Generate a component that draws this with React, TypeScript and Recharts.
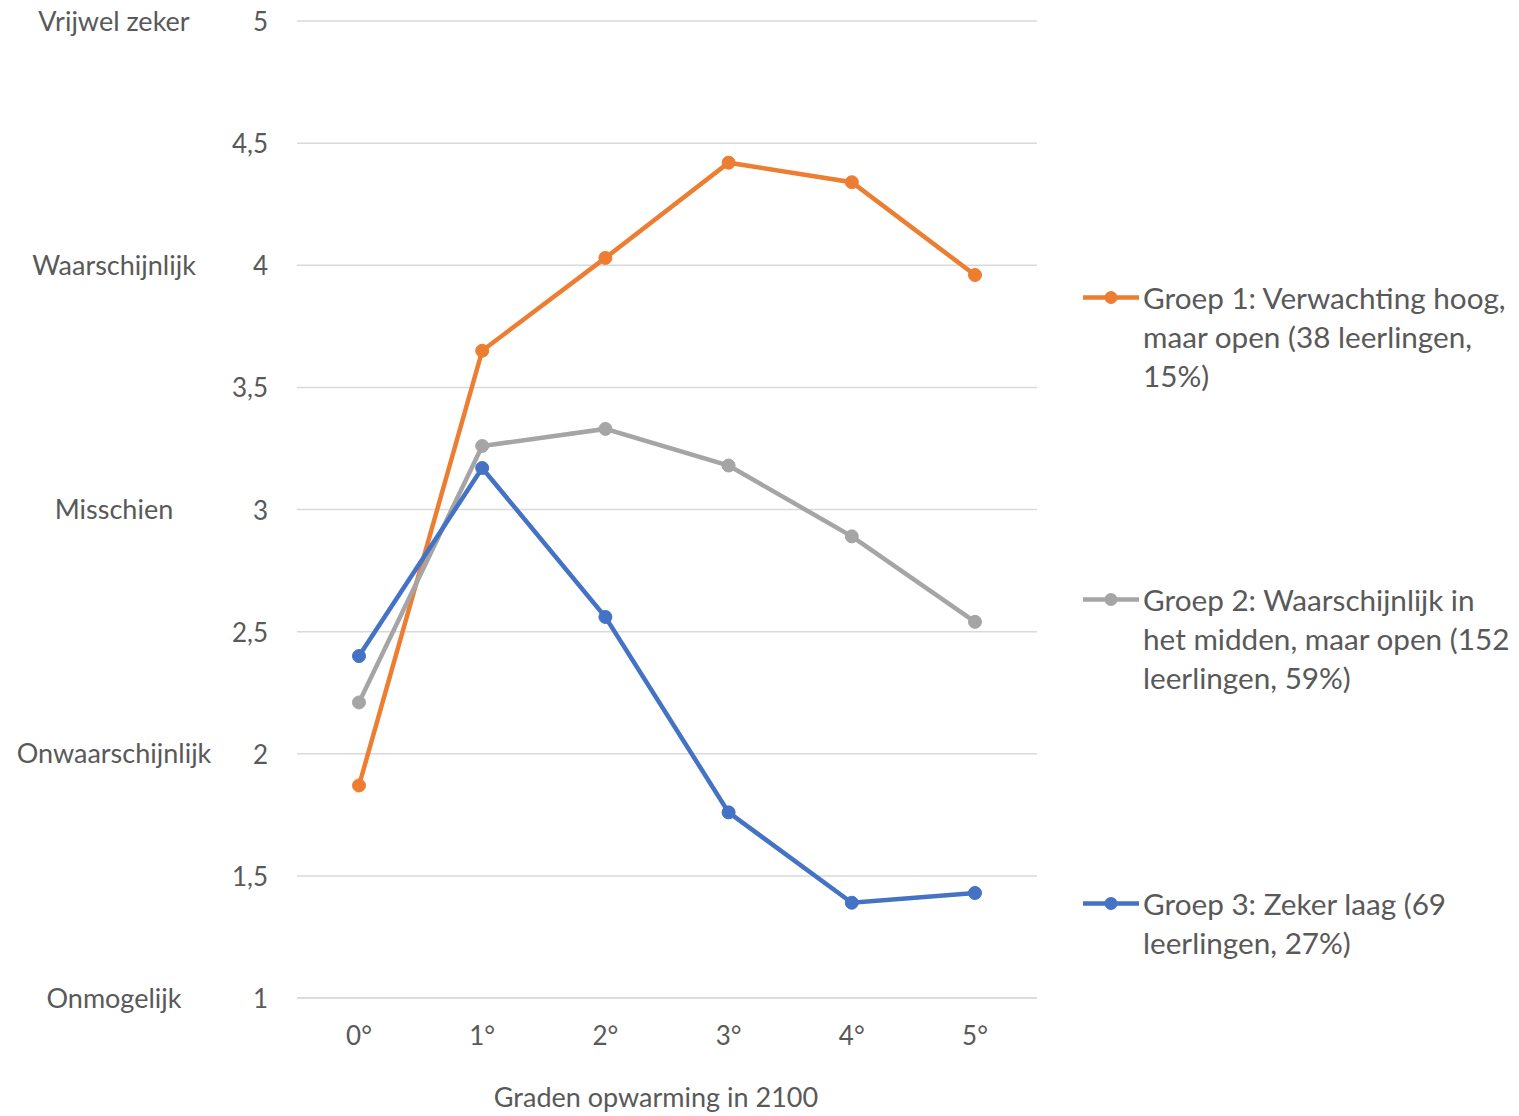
import React from 'react';
import { LineChart, Line, XAxis, YAxis, CartesianGrid, Legend, Label } from 'recharts';

const categories = ['0°', '1°', '2°', '3°', '4°', '5°'];
const groep1 = [1.87, 3.65, 4.03, 4.42, 4.34, 3.96];
const groep2 = [2.21, 3.26, 3.33, 3.18, 2.89, 2.54];
const groep3 = [2.4, 3.17, 2.56, 1.76, 1.39, 1.43];
const yTicks = [1, 1.5, 2, 2.5, 3, 3.5, 4, 4.5, 5];
const yTickWords: Record<string, string> = {
  '1': 'Onmogelijk',
  '2': 'Onwaarschijnlijk',
  '3': 'Misschien',
  '4': 'Waarschijnlijk',
  '5': 'Vrijwel zeker',
};
const xTitle = 'Graden opwarming in 2100';

const seriesNames = [
  'Groep 1: Verwachting hoog, maar open (38 leerlingen, 15%)',
  'Groep 2: Waarschijnlijk in het midden, maar open (152 leerlingen, 59%)',
  'Groep 3: Zeker laag (69 leerlingen, 27%)',
];
const legendLines = [
  ['Groep 1: Verwachting hoog,', 'maar open (38 leerlingen,', '15%)'],
  ['Groep 2: Waarschijnlijk in', 'het midden, maar open (152', 'leerlingen, 59%)'],
  ['Groep 3: Zeker laag (69', 'leerlingen, 27%)'],
];
const seriesKeys = ['g1', 'g2', 'g3'];
const seriesColors = ['#ED7D31', '#A5A5A5', '#4472C4'];

const data = categories.map((c, i) => ({
  cat: c,
  g1: groep1[i],
  g2: groep2[i],
  g3: groep3[i],
}));

const FONT = 'Lato, "Open Sans", sans-serif';
const TEXT = '#595959';

const fmt = (v: number) => String(v).replace('.', ',');

const YTick = (props: any) => {
  const { x, y, payload } = props;
  const word = yTickWords[String(payload.value)];
  return (
    <g>
      <text x={x} y={y} textAnchor="end" dominantBaseline="central" fill={TEXT} fontSize={26} fontFamily={FONT}>
        {fmt(payload.value)}
      </text>
      {word && (
        <text x={114} y={y - 1} textAnchor="middle" dominantBaseline="central" fill={TEXT} fontSize={27} fontFamily={FONT}>
          {word}
        </text>
      )}
    </g>
  );
};

const legendTops = [278, 580, 884];

const LegendContent = () => (
  <div style={{ position: 'relative', height: 0 }}>
    {seriesKeys.map((k, i) => (
      <div key={k} style={{ position: 'absolute', left: 1083, top: legendTops[i] }}>
        <svg width={56} height={39} style={{ position: 'absolute', left: 0, top: 0 }}>
          <line x1={0} y1={19.5} x2={56} y2={19.5} stroke={seriesColors[i]} strokeWidth={4.5} />
          <circle cx={28} cy={19.5} r={6.5} fill={seriesColors[i]} />
        </svg>
        <div
          style={{
            position: 'absolute',
            left: 60,
            top: 0,
            whiteSpace: 'nowrap',
            fontFamily: FONT,
            fontSize: 29.7,
            lineHeight: '39px',
            color: TEXT,
          }}
        >
          {legendLines[i].map((l, j) => (
            <div key={j}>{l}</div>
          ))}
        </div>
      </div>
    ))}
  </div>
);

export default function App() {
  return (
    <div style={{ position: 'absolute', left: 0, top: 0, background: '#fff' }}>
      <LineChart width={1519} height={1116} data={data} margin={{ top: 21, right: 482, bottom: 0, left: 0 }}>
        <CartesianGrid vertical={false} stroke="#D9D9D9" strokeWidth={1.5} />
        <XAxis
          dataKey="cat"
          height={118}
          padding={{ left: 62, right: 62 }}
          axisLine={{ stroke: '#D9D9D9', strokeWidth: 1.5 }}
          tickLine={false}
          tickSize={0}
          tickMargin={29}
          tick={{ fill: TEXT, fontSize: 26, fontFamily: FONT }}
          interval={0}
        >
          <Label
            value={xTitle}
            position="insideBottom"
            offset={9}
            dx={-11}
            style={{ fill: TEXT, fontSize: 27, fontFamily: FONT }}
          />
        </XAxis>
        <YAxis
          type="number"
          domain={[1, 5]}
          ticks={yTicks}
          interval={0}
          width={297}
          axisLine={false}
          tickLine={false}
          tickSize={0}
          tickMargin={29}
          tick={<YTick />}
        />
        <Legend
          verticalAlign="top"
          align="left"
          layout="horizontal"
          wrapperStyle={{ left: 0, top: 0, right: 'auto', width: 1519, height: 0 }}
          content={<LegendContent />}
        />
        {seriesKeys.map((k, i) => (
          <Line
            key={k}
            dataKey={k}
            name={seriesNames[i]}
            stroke={seriesColors[i]}
            strokeWidth={4.5}
            dot={{ r: 6.5, fill: seriesColors[i], stroke: seriesColors[i], strokeWidth: 1 }}
            activeDot={false}
            isAnimationActive={false}
            type="linear"
          />
        ))}
      </LineChart>
    </div>
  );
}
